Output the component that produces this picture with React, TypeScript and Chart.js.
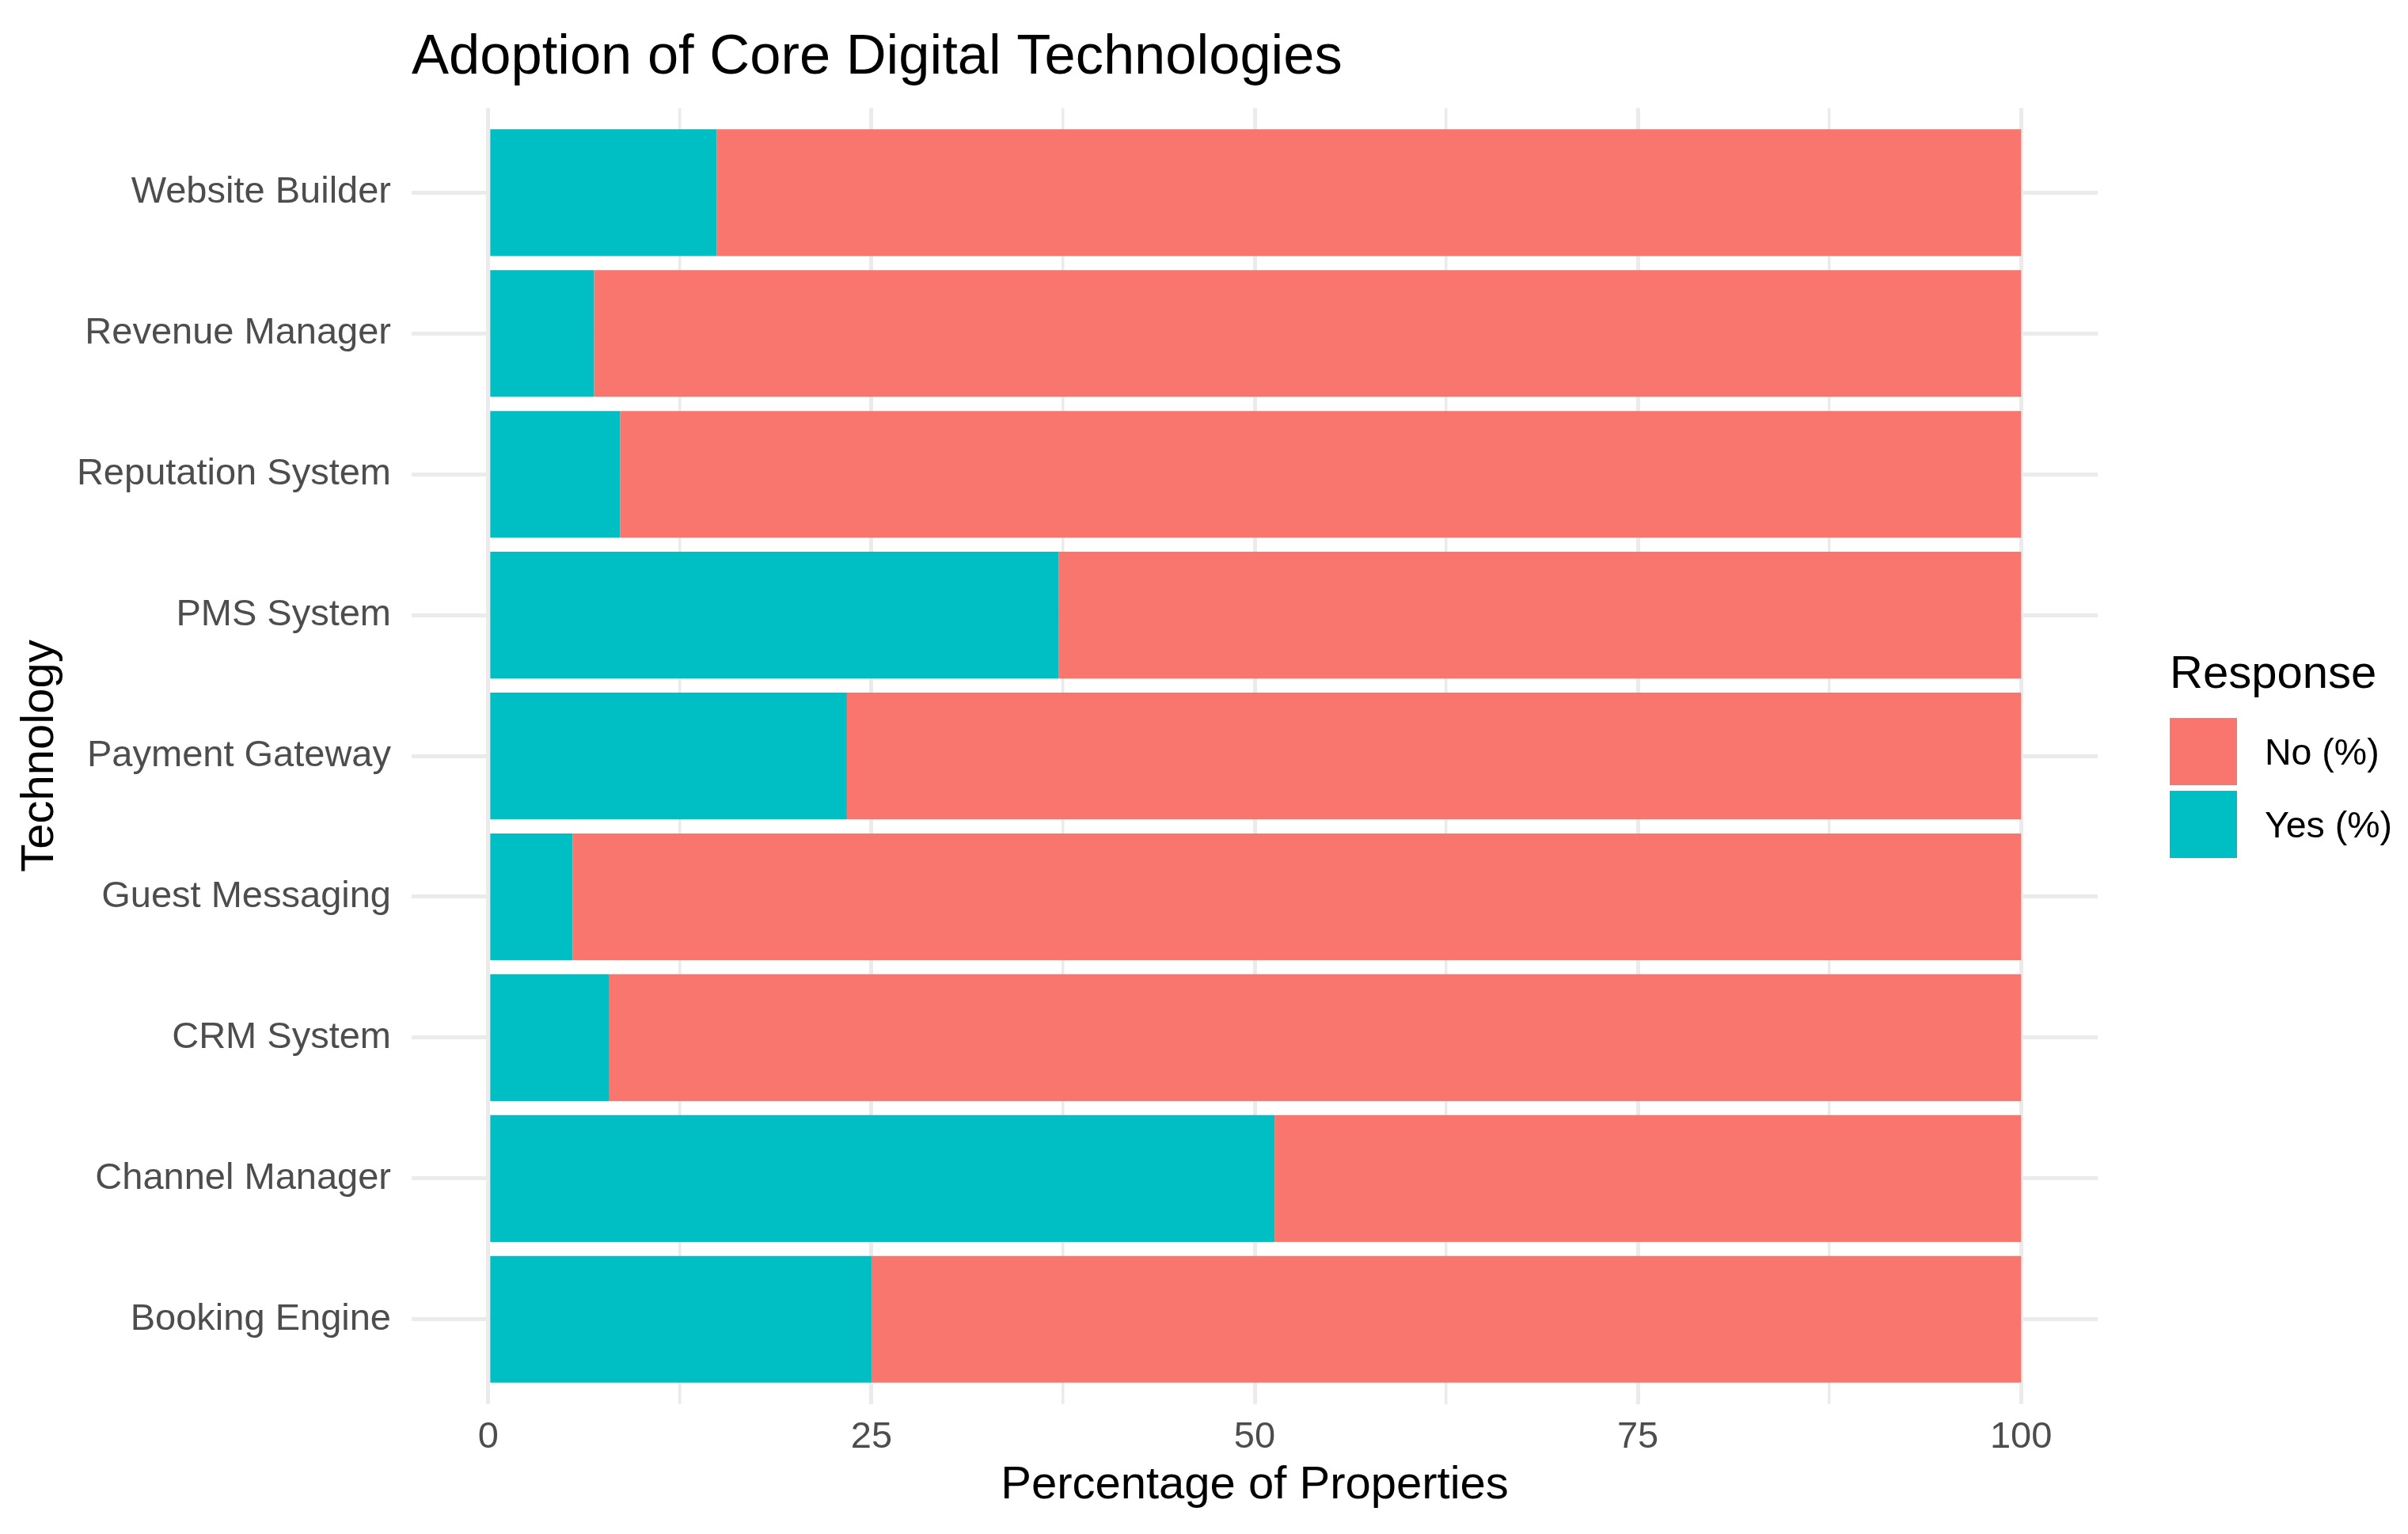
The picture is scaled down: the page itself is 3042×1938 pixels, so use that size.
import { useEffect, useRef } from 'react';
import { Chart, registerables } from 'chart.js';

Chart.register(...registerables);

// listed bottom to top, as ggplot orders the factor levels
const technologies = [
  'Booking Engine',
  'Channel Manager',
  'CRM System',
  'Guest Messaging',
  'Payment Gateway',
  'PMS System',
  'Reputation System',
  'Revenue Manager',
  'Website Builder',
];
const yesPct = [25.0, 51.3, 7.9, 5.5, 23.4, 37.2, 8.6, 6.9, 14.9];
const noPct = [75.0, 48.7, 92.1, 94.5, 76.6, 62.8, 91.4, 93.1, 85.1];
const xTicks = [0, 12.5, 25, 37.5, 50, 62.5, 75, 87.5, 100];

const FONT = '"Liberation Sans", Arial, sans-serif';
const YES_COLOR = '#00BFC4';
const NO_COLOR = '#F8766D';
const GRID = '#EBEBEB';

// ggplot-style legend at the right, "No" listed before "Yes"
const responseLegend = {
  id: 'responseLegend',
  afterDraw(chart) {
    const { ctx, chartArea } = chart;
    const left = chartArea.right + 91;
    const midY = (chartArea.top + chartArea.bottom) / 2;
    const key = 85;
    const pitch = 92;
    const items = [...chart.data.datasets].reverse();

    ctx.save();
    ctx.textAlign = 'left';
    ctx.textBaseline = 'alphabetic';
    ctx.fillStyle = '#000';
    ctx.font = `58px ${FONT}`;
    ctx.fillText('Response', left, midY - 86);

    items.forEach((ds, i) => {
      const top = midY - 48 + i * pitch;
      ctx.fillStyle = ds.backgroundColor;
      ctx.fillRect(left, top, key, key);
      ctx.fillStyle = '#000';
      ctx.font = `46.5px ${FONT}`;
      ctx.fillText(ds.label, left + 120, top + key / 2 + 16.5);
    });
    ctx.restore();
  },
};

export default function App() {
  const canvasRef = useRef(null);

  useEffect(() => {
    if (!canvasRef.current) return;

    const chart = new Chart(canvasRef.current, {
      type: 'bar',
      data: {
        datasets: [
          {
            label: 'Yes (%)',
            data: yesPct.map((v, i) => ({ x: v, y: i })),
            backgroundColor: YES_COLOR,
            borderWidth: 0,
          },
          {
            label: 'No (%)',
            data: noPct.map((v, i) => ({ x: v, y: i })),
            backgroundColor: NO_COLOR,
            borderWidth: 0,
          },
        ],
      },
      plugins: [responseLegend],
      options: {
        indexAxis: 'y',
        animation: false,
        responsive: true,
        maintainAspectRatio: false,
        categoryPercentage: 0.9,
        barPercentage: 1,
        layout: {
          padding: { top: 0, left: 0, right: 392, bottom: 0 },
        },
        plugins: {
          legend: { display: false },
          tooltip: { enabled: false },
          title: {
            display: true,
            text: 'Adoption of Core Digital Technologies',
            align: 'start',
            fullSize: false,
            color: '#000',
            font: { family: FONT, size: 70.5, weight: 'normal' },
            padding: { top: 31.5, bottom: 20.5 },
          },
        },
        scales: {
          x: {
            type: 'linear',
            stacked: true,
            min: -5,
            max: 105,
            afterBuildTicks: (axis) => {
              axis.ticks = xTicks.map((value) => ({ value }));
            },
            afterFit: (scale) => {
              scale.height = 164.5;
            },
            border: { display: false },
            grid: {
              color: GRID,
              drawTicks: false,
              lineWidth: (ctx) => (ctx.tick && ctx.tick.value % 25 === 0 ? 5 : 3.5),
            },
            ticks: {
              autoSkip: false,
              maxRotation: 0,
              padding: 14,
              color: '#4D4D4D',
              font: { family: FONT, size: 47 },
              callback: (value) => (value % 25 === 0 ? String(value) : ''),
            },
            title: {
              display: true,
              text: 'Percentage of Properties',
              color: '#000',
              font: { family: FONT, size: 58 },
              padding: { top: 0, bottom: 26 },
            },
          },
          y: {
            type: 'linear',
            stacked: true,
            offset: false,
            min: -0.6,
            max: 8.6,
            afterBuildTicks: (axis) => {
              axis.ticks = technologies.map((_, i) => ({ value: i }));
            },
            afterFit: (scale) => {
              scale.width = 520;
            },
            border: { display: false },
            grid: {
              color: GRID,
              lineWidth: 5,
              offset: false,
              drawTicks: false,
            },
            ticks: {
              autoSkip: false,
              padding: 26,
              color: '#4D4D4D',
              font: { family: FONT, size: 47 },
              callback: (value) => technologies[value] ?? '',
            },
            title: {
              display: true,
              text: 'Technology',
              color: '#000',
              font: { family: FONT, size: 58 },
              padding: { top: 16, bottom: 0 },
            },
          },
        },
      },
    });

    return () => {
      chart.destroy();
    };
  }, []);

  return (
    <div
      style={{
        position: 'fixed',
        left: 0,
        top: 0,
        width: 3042,
        height: 1938,
        background: '#fff',
      }}
    >
      <canvas ref={canvasRef}></canvas>
    </div>
  );
}
